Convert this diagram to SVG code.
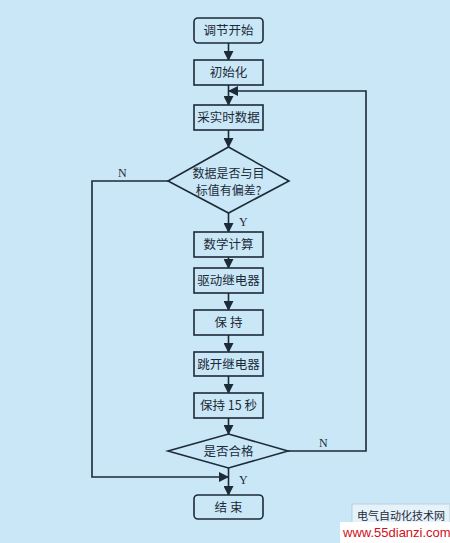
<svg xmlns="http://www.w3.org/2000/svg" width="450" height="543" viewBox="0 0 450 543">
<style>
.box{fill:#c9e7f6;stroke:#1d2a38;stroke-width:1.6}
.t{font-family:"Noto Sans CJK SC","Liberation Serif",serif;font-size:12.5px;fill:#1d2a38;text-anchor:middle}
.d{font-size:12px}
.l{font-family:"Liberation Serif",serif;font-size:12px;fill:#1d2a38}
.c{fill:none;stroke:#1d2a38;stroke-width:1.6}
</style>
<defs>
<marker id="ah" markerWidth="10" markerHeight="10" refX="9" refY="5" orient="auto" markerUnits="userSpaceOnUse">
<path d="M0,0 L10,5 L0,10 Z" fill="#1d2a38"/>
</marker>
</defs>
<rect width="450" height="543" fill="#c9e7f6"/>
<g id="connectors">
<line class="c" x1="228.5" y1="43" x2="228.5" y2="60" marker-end="url(#ah)"/>
<line class="c" x1="228.5" y1="85" x2="228.5" y2="105" marker-end="url(#ah)"/>
<line class="c" x1="228.5" y1="130" x2="228.5" y2="147" marker-end="url(#ah)"/>
<line class="c" x1="228.5" y1="213" x2="228.5" y2="232" marker-end="url(#ah)"/>
<line class="c" x1="228.5" y1="257" x2="228.5" y2="268" marker-end="url(#ah)"/>
<line class="c" x1="228.5" y1="293" x2="228.5" y2="310" marker-end="url(#ah)"/>
<line class="c" x1="228.5" y1="335" x2="228.5" y2="352" marker-end="url(#ah)"/>
<line class="c" x1="228.5" y1="376" x2="228.5" y2="393" marker-end="url(#ah)"/>
<line class="c" x1="228.5" y1="418" x2="228.5" y2="434" marker-end="url(#ah)"/>
<line class="c" x1="228.5" y1="468" x2="228.5" y2="495" marker-end="url(#ah)"/>
<polyline class="c" points="168,181 92,181 92,477 228,477" marker-end="url(#ah)"/>
<polyline class="c" points="288,451 366,451 366,91 229,91" marker-end="url(#ah)"/>
<text class="l" x="118" y="177">N</text>
<text class="l" x="239" y="226">Y</text>
<text class="l" x="319" y="447">N</text>
<text class="l" x="239" y="484">Y</text>
</g>
<g id="start"><rect class="box" x="194" y="18" width="69" height="25" rx="4"/><text class="t" x="228.5" y="35">调节开始</text></g>
<g id="init"><rect class="box" x="194" y="60" width="69" height="25"/><text class="t" x="228.5" y="77">初始化</text></g>
<g id="sample"><rect class="box" x="194" y="105" width="69" height="25"/><text class="t" x="228.5" y="122">采实时数据</text></g>
<g id="dev"><polygon class="box" points="228.5,147 289,181 228.5,213 168,181"/><text class="t d" x="228.5" y="178">数据是否与目</text><text class="t d" x="228.5" y="195">标值有偏差?</text></g>
<g id="calc"><rect class="box" x="194" y="232" width="69" height="25"/><text class="t" x="228.5" y="249">数学计算</text></g>
<g id="drive"><rect class="box" x="194" y="268" width="69" height="25"/><text class="t" x="228.5" y="285">驱动继电器</text></g>
<g id="hold"><rect class="box" x="194" y="310" width="69" height="25"/><text class="t" x="228.5" y="327">保 持</text></g>
<g id="trip"><rect class="box" x="194" y="352" width="69" height="24"/><text class="t" x="228.5" y="369">跳开继电器</text></g>
<g id="hold15"><rect class="box" x="194" y="393" width="69" height="25"/><text class="t" x="228.5" y="410">保持 15 秒</text></g>
<g id="pass"><polygon class="box" points="228.5,434 288,451 228.5,468 168,451"/><text class="t" x="228.5" y="456">是否合格</text></g>
<g id="end"><rect class="box" x="194" y="495" width="69" height="24" rx="4"/><text class="t" x="228.5" y="512">结 束</text></g>
<g id="watermark">
<rect x="352" y="504" width="98" height="20" fill="#e6f2fa" stroke="#b8cfdc" stroke-width="1"/>
<text x="357" y="520" font-family="Noto Sans CJK SC,sans-serif" font-size="11" fill="#1d2a38">电气自动化技术网</text>
<rect x="340" y="522" width="110" height="21" fill="#ffffff"/>
<text x="343" y="537" font-family="Liberation Sans,sans-serif" font-size="13" fill="#d0101a">www.55dianzi.com</text>
</g>
</svg>
